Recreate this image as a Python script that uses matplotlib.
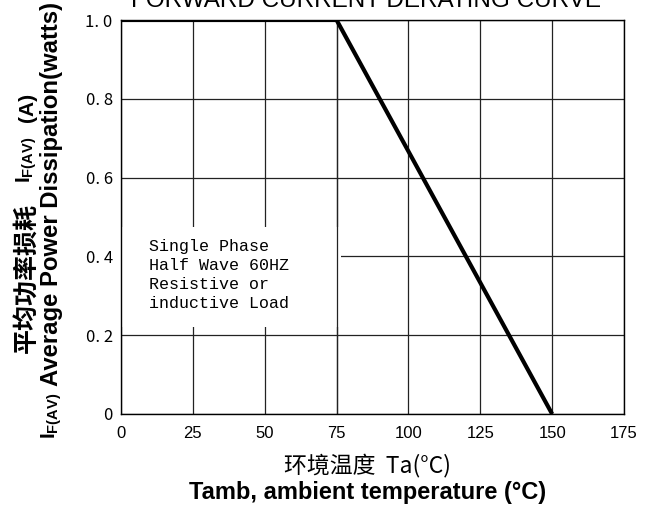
import matplotlib
matplotlib.use("Agg")
import matplotlib.pyplot as plt
from matplotlib.patches import Rectangle

# data
temps = [0, 75, 150]
current = [1.0, 1.0, 0.0]
xticks = [0, 25, 50, 75, 100, 125, 150, 175]
xtick_labels = ["0", "25", "50", "75", "100", "125", "150", "175"]
yticks = [0, 0.2, 0.4, 0.6, 0.8, 1.0]
ytick_labels = ["0", "0. 2", "0. 4", "0. 6", "0. 8", "1. 0"]
title = "FORWARD CURRENT DERATING CURVE"
note = "Single Phase\nHalf Wave 60HZ\nResistive or\ninductive Load"

plt.rcParams['mathtext.fontset'] = 'custom'
plt.rcParams['mathtext.rm'] = 'Liberation Sans:bold'
plt.rcParams['mathtext.bf'] = 'Liberation Sans:bold'
plt.rcParams['mathtext.it'] = 'Liberation Sans:bold'

W, H = 653, 511
fig = plt.figure(figsize=(W / 100, H / 100), dpi=100)

def fx(px):
    return px / W

def fy(py):
    return 1 - py / H

ax = fig.add_axes([fx(121), fy(414), fx(624) - fx(121), fy(20) - fy(414)])
ax.set_xlim(0, 175)
ax.set_ylim(0, 1.0)

for s in ax.spines.values():
    s.set_linewidth(1.0)
    s.set_color("black")

ax.set_xticks(xticks)
ax.set_xticklabels(xtick_labels, fontfamily="Liberation Sans", fontsize=12)
ax.set_yticks(yticks)
ax.set_yticklabels(ytick_labels, fontfamily=["Noto Sans CJK JP", "DejaVu Sans"], fontsize=12)
ax.tick_params(axis="x", length=0, pad=9)
ax.tick_params(axis="y", length=0, pad=6)

ax.grid(True, color="#222222", linewidth=0.9, zorder=0.5)
ax.set_axisbelow(True)

# white box behind note (covers grid)
ax.add_patch(Rectangle((0, 0.22), 76.5, 0.255, facecolor="white", edgecolor="none", zorder=1))
ax.axvline(75, color="#222222", linewidth=0.9, zorder=1.5)

ax.plot(temps, current, color="black", linewidth=3, zorder=3, solid_capstyle="butt")

ax.text(fx(149), fy(239), note, transform=fig.transFigure, ha="left", va="top",
        fontfamily="Liberation Mono", fontsize=12, linespacing=1.32, zorder=4)

fig.text(fx(366), fy(7), title, ha="center", va="baseline", fontfamily="Liberation Sans", fontsize=17.5)

# x labels
fig.text(fx(368), fy(465), "环境温度  Ta(°C)", ha="center", va="center",
         fontfamily=["Noto Sans CJK SC", "DejaVu Sans"], fontsize=16.5)
fig.text(fx(368), fy(492), "Tamb, ambient temperature (°C)", ha="center", va="center",
         fontfamily="Liberation Sans", fontweight="bold", fontsize=17)

# y labels (rotated)
fig.text(fx(27), fy(278), "平均功率损耗", rotation=90, ha="center", va="center",
         fontfamily=["Noto Sans CJK SC", "DejaVu Sans"], fontweight="bold", fontsize=18)
fig.text(fx(27), fy(160), r"$\mathbf{I}_{\mathbf{F(AV)}}$", rotation=90, ha="center", va="center", fontsize=15)
fig.text(fx(27), fy(107), "(A)", rotation=90, ha="center", va="center",
         fontfamily="Liberation Sans", fontweight="bold", fontsize=15)
fig.text(fx(52), fy(194), "Average Power Dissipation(watts)", rotation=90, ha="center", va="center",
         fontfamily="Liberation Sans", fontweight="bold", fontsize=17.2)
fig.text(fx(52), fy(416), r"$\mathbf{I}_{\mathbf{F(AV)}}$", rotation=90, ha="center", va="center", fontsize=15)

fig.savefig("out.png", dpi=100)
